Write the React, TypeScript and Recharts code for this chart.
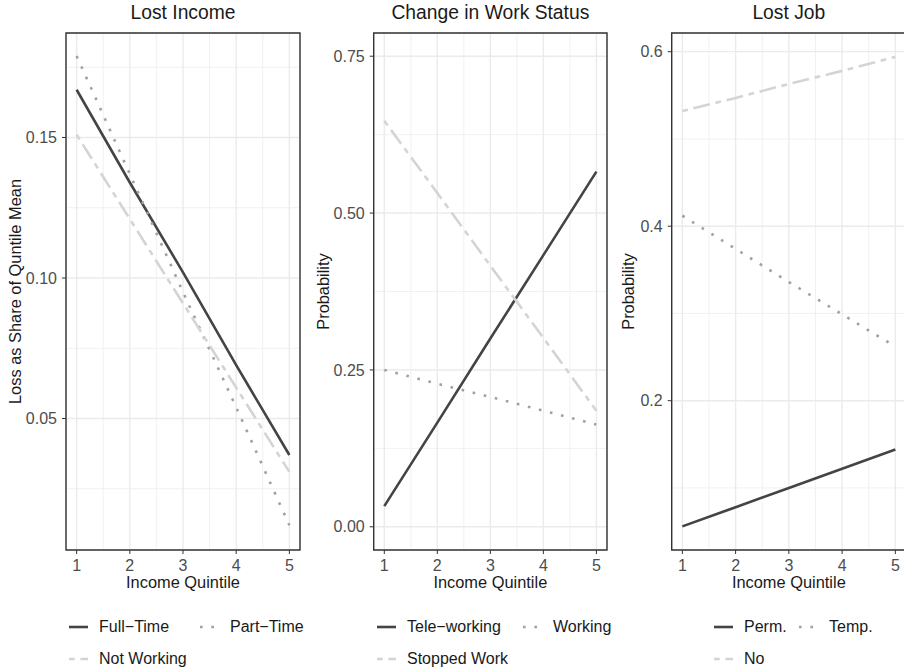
import { LineChart, Line, XAxis, YAxis, CartesianGrid, ReferenceArea, Label } from 'recharts';

const FONT = '"Liberation Sans", Arial, Helvetica, sans-serif';

const quintiles = [1, 2, 3, 4, 5];
const quintileMinor = [1.5, 2.5, 3.5, 4.5];

// Lost Income
const fullTime = [0.167, 0.134, 0.102, 0.069, 0.037];
const partTime = [0.179, 0.137, 0.095, 0.054, 0.012];
const notWorking = [0.151, 0.121, 0.091, 0.061, 0.031];
const lossTicks = [0.05, 0.1, 0.15];
const lossMinor = [0.025, 0.075, 0.125, 0.175];

// Change in Work Status
const teleWorking = [0.033, 0.166, 0.3, 0.433, 0.566];
const working = [0.25, 0.228, 0.207, 0.185, 0.163];
const stoppedWork = [0.647, 0.532, 0.416, 0.301, 0.185];
const statusTicks = [0, 0.25, 0.5, 0.75];
const statusMinor = [0.125, 0.375, 0.625];

// Lost Job
const perm = [0.056, 0.078, 0.1, 0.122, 0.144];
const temp = [0.412, 0.374, 0.336, 0.299, 0.262];
const noJobLoss = [0.532, 0.547, 0.563, 0.578, 0.594];
const jobTicks = [0.2, 0.4, 0.6];
const jobMinor = [0.1, 0.3, 0.5];

const lineStyles: Record<string, { stroke: string; dash?: string }> = {
  solid: { stroke: '#444444' },
  dotted: { stroke: '#A0A0A0', dash: '2.6 8.8' },
  dashed: { stroke: '#D4D4D4', dash: '5.7 5.7 17 5.7' },
};

type Series = { key: string; name: string; values: number[]; kind: string };

type PanelConfig = {
  title: string;
  yLabel: string;
  left: number;
  width: number;
  yAxisWidth: number;
  yLabelX: number;
  yDomain: [number, number];
  yTicks: number[];
  yMinor: number[];
  digits: number;
  legendCols: [number, number];
  series: Series[];
};

const panels: PanelConfig[] = [
  {
    title: 'Lost Income',
    yLabel: 'Loss as Share of Quntile Mean',
    left: 0,
    width: 301,
    yAxisWidth: 66,
    yLabelX: 15,
    yDomain: [0.0032, 0.1872],
    yTicks: lossTicks,
    yMinor: lossMinor,
    digits: 2,
    legendCols: [69, 200],
    series: [
      { key: 'ft', name: 'Full\u2212Time', values: fullTime, kind: 'solid' },
      { key: 'pt', name: 'Part\u2212Time', values: partTime, kind: 'dotted' },
      { key: 'nw', name: 'Not Working', values: notWorking, kind: 'dashed' },
    ],
  },
  {
    title: 'Change in Work Status',
    yLabel: 'Probability',
    left: 300,
    width: 308,
    yAxisWidth: 73.7,
    yLabelX: 22.7,
    yDomain: [-0.037, 0.787],
    yTicks: statusTicks,
    yMinor: statusMinor,
    digits: 2,
    legendCols: [77, 223],
    series: [
      { key: 'tw', name: 'Tele\u2212working', values: teleWorking, kind: 'solid' },
      { key: 'wk', name: 'Working', values: working, kind: 'dotted' },
      { key: 'sw', name: 'Stopped Work', values: stoppedWork, kind: 'dashed' },
    ],
  },
  {
    title: 'Lost Job',
    yLabel: 'Probability',
    left: 607,
    width: 300,
    yAxisWidth: 64.7,
    yLabelX: 21,
    yDomain: [0.0289, 0.6214],
    yTicks: jobTicks,
    yMinor: jobMinor,
    digits: 1,
    legendCols: [107, 192],
    series: [
      { key: 'pm', name: 'Perm.', values: perm, kind: 'solid' },
      { key: 'tp', name: 'Temp.', values: temp, kind: 'dotted' },
      { key: 'no', name: 'No', values: noJobLoss, kind: 'dashed' },
    ],
  },
];

function LegendItem({ s, x, y }: { s: Series; x: number; y: number }) {
  const st = lineStyles[s.kind];
  return (
    <div style={{ position: 'absolute', left: x, top: y - 11, height: 22, display: 'flex', alignItems: 'center', whiteSpace: 'nowrap' }}>
      <svg width={19} height={10} style={{ display: 'block' }}>
        <line x1={0} y1={5} x2={19} y2={5} stroke={st.stroke} strokeWidth={2.6} strokeDasharray={st.dash} />
      </svg>
      <span style={{ marginLeft: 11, fontSize: 16, color: '#1a1a1a', fontFamily: FONT }}>{s.name}</span>
    </div>
  );
}

function Panel({ cfg }: { cfg: PanelConfig }) {
  const data = quintiles.map((q, i) => {
    const row: Record<string, number> = { q };
    cfg.series.forEach((s) => {
      row[s.key] = s.values[i];
    });
    return row;
  });
  const fmt = (v: number) => v.toFixed(cfg.digits);

  return (
    <div style={{ position: 'absolute', left: cfg.left, top: 0, width: cfg.width, height: 669 }}>
      <div
        style={{
          position: 'absolute',
          top: 1,
          left: cfg.yAxisWidth,
          width: cfg.width - cfg.yAxisWidth - 1,
          textAlign: 'center',
          fontSize: 19.3,
          lineHeight: '24px',
          color: '#1a1a1a',
          fontFamily: FONT,
          whiteSpace: 'nowrap',
        }}
      >
        {cfg.title}
      </div>
      <LineChart width={cfg.width} height={600} data={data} margin={{ top: 33, right: 1, bottom: 5, left: 0 }}>
        <CartesianGrid stroke="#EEEEEE" strokeWidth={0.8} horizontalValues={cfg.yMinor} verticalValues={quintileMinor} />
        <CartesianGrid stroke="#EBEBEB" strokeWidth={1.4} />
        <XAxis
          dataKey="q"
          type="number"
          domain={[0.8, 5.2]}
          ticks={quintiles}
          allowDataOverflow
          axisLine={false}
          tickLine={{ stroke: '#333333' }}
          tickSize={4}
          tickMargin={6}
          tick={{ fill: '#4D4D4D', fontSize: 16, fontFamily: FONT }}
          height={45}
        >
          <Label
            content={(p: any) => {
              const vb = p.viewBox || {};
              return (
                <text x={vb.x + vb.width / 2} y={vb.y + 38} textAnchor="middle" fontSize={16.4} fill="#1a1a1a" fontFamily={FONT}>
                  Income Quintile
                </text>
              );
            }}
          />
        </XAxis>
        <YAxis
          type="number"
          domain={cfg.yDomain}
          ticks={cfg.yTicks}
          allowDataOverflow
          width={cfg.yAxisWidth}
          axisLine={false}
          tickLine={{ stroke: '#333333' }}
          tickSize={4}
          tickMargin={5}
          tickFormatter={fmt}
          tick={{ fill: '#4D4D4D', fontSize: 16, fontFamily: FONT }}
        >
          <Label
            content={(p: any) => {
              const vb = p.viewBox || {};
              const x = vb.x + cfg.yLabelX;
              const y = vb.y + vb.height / 2;
              return (
                <text
                  x={x}
                  y={y}
                  transform={`rotate(-90, ${x}, ${y})`}
                  textAnchor="middle"
                  dominantBaseline="central"
                  fontSize={16.4}
                  fill="#1a1a1a"
                  fontFamily={FONT}
                >
                  {cfg.yLabel}
                </text>
              );
            }}
          />
        </YAxis>
        {cfg.series.map((s) => (
          <Line
            key={s.key}
            type="linear"
            dataKey={s.key}
            name={s.name}
            stroke={lineStyles[s.kind].stroke}
            strokeDasharray={lineStyles[s.kind].dash}
            strokeWidth={2.6}
            dot={false}
            activeDot={false}
            isAnimationActive={false}
          />
        ))}
        <ReferenceArea
          x1={0.8}
          x2={5.2}
          y1={cfg.yDomain[0]}
          y2={cfg.yDomain[1]}
          fill="none"
          fillOpacity={0}
          stroke="#333333"
          strokeWidth={1.4}
          ifOverflow="visible"
        />
      </LineChart>
      <LegendItem s={cfg.series[0]} x={cfg.legendCols[0]} y={626.7} />
      <LegendItem s={cfg.series[1]} x={cfg.legendCols[1]} y={626.7} />
      <LegendItem s={cfg.series[2]} x={cfg.legendCols[0]} y={659.3} />
    </div>
  );
}

export default function App() {
  return (
    <div style={{ position: 'absolute', left: 0, top: 0, width: 904, height: 669, overflow: 'hidden', background: '#ffffff' }}>
      {panels.map((cfg) => (
        <Panel key={cfg.title} cfg={cfg} />
      ))}
    </div>
  );
}
